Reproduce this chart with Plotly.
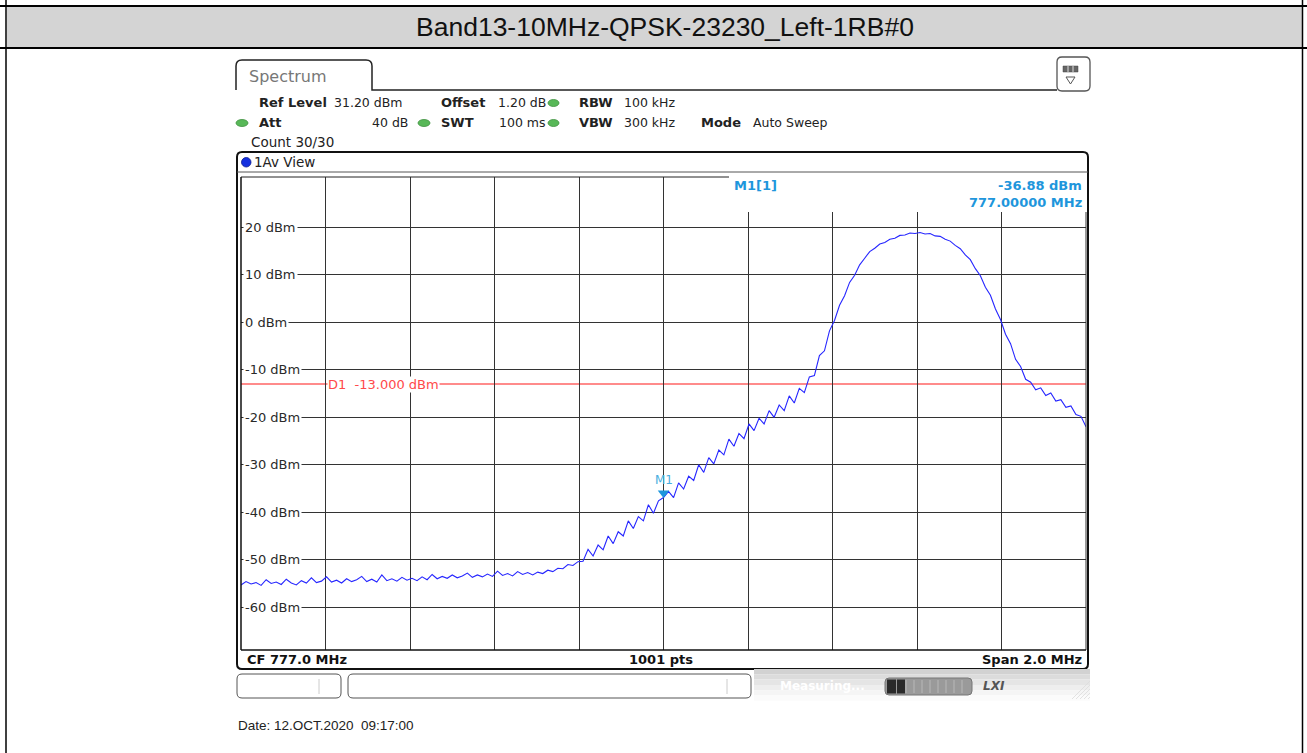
import numpy as np
import plotly.graph_objects as go

# ---------------- data ----------------
title_text = "Band13-10MHz-QPSK-23230_Left-1RB#0"
start_mhz = 776.0
stop_mhz = 778.0
levels_dbm = [
    -55.3, -54.6, -55.1, -54.8, -55.4, -54.2, -55.0, -54.7, -55.2, -54.1,
    -54.9, -55.3, -54.4, -54.9, -53.8, -54.8, -54.5, -53.6, -54.7, -54.3,
    -54.9, -54.0, -54.6, -54.2, -53.5, -54.6, -54.1, -54.7, -53.2, -54.4,
    -54.0, -54.5, -53.7, -54.3, -53.9, -54.4, -53.6, -54.2, -53.1, -54.0,
    -53.5, -53.9, -53.2, -53.8, -53.4, -52.8, -53.7, -53.2, -53.6, -53.0,
    -53.5, -52.4, -53.3, -52.9, -53.4, -52.5, -53.1, -52.7, -53.2, -52.6,
    -52.9, -52.2, -52.5, -51.8, -51.9, -51.0, -51.2, -50.4, -50.3, -47.8,
    -49.2, -46.9, -47.9, -45.0, -46.6, -44.1, -45.0, -41.8, -43.4, -40.9,
    -41.8, -38.4, -40.2, -37.6, -36.9, -35.6, -36.9, -33.8, -35.1, -32.4,
    -33.3, -30.0, -31.6, -28.5, -29.8, -26.9, -27.9, -24.6, -26.1, -23.4,
    -24.5, -21.4, -22.8, -20.2, -21.4, -18.6, -20.0, -17.4, -18.6, -15.5,
    -17.0, -13.9, -14.8, -11.5, -11.2, -7.0, -6.0, -1.8, 0.4, 3.6,
    5.6, 8.4, 9.9, 12.1, 13.5, 14.9, 15.6, 16.5, 16.8, 17.5,
    17.7, 18.3, 18.4, 18.8, 18.7, 18.9, 18.6, 18.7, 18.2, 18.1,
    17.5, 17.1, 16.2, 15.5, 14.2, 13.2, 11.3, 9.8, 7.4, 5.7,
    2.8, 0.6, -2.5, -4.5, -7.8, -9.3, -12.0, -12.6, -14.2, -13.8,
    -15.4, -14.9, -16.6, -16.3, -17.9, -17.6, -19.4, -19.8, -22.0,
]
freqs_mhz = np.linspace(start_mhz, stop_mhz, len(levels_dbm))

y_tick_values = [20, 10, 0, -10, -20, -30, -40, -50, -60]
y_tick_labels = ["20 dBm", "10 dBm", "0 dBm", "-10 dBm", "-20 dBm",
                 "-30 dBm", "-40 dBm", "-50 dBm", "-60 dBm"]
x_grid_step = 0.2
y_range = [-69.0, 30.6]

display_line_dbm = -13.0
display_line_label = "D1\u00a0\u00a0-13.000 dBm"
marker_freq = 777.0
marker_level = -36.88
marker_tip_offset_db = 0.95  # lifts the triangle so its tip sits on the level

# ---------------- geometry helpers ----------------
W, H = 1307, 753
PL, PR, PT, PB = 241, 1086, 177, 650


def X(px):
    return px / W


def Y(py):
    return 1 - py / H


def rrect_path(x0, y0, x1, y1, r):
    pts = [
        f"M {X(x0 + r)},{Y(y0)}",
        f"L {X(x1 - r)},{Y(y0)}",
        f"Q {X(x1)},{Y(y0)} {X(x1)},{Y(y0 + r)}",
        f"L {X(x1)},{Y(y1 - r)}",
        f"Q {X(x1)},{Y(y1)} {X(x1 - r)},{Y(y1)}",
        f"L {X(x0 + r)},{Y(y1)}",
        f"Q {X(x0)},{Y(y1)} {X(x0)},{Y(y1 - r)}",
        f"L {X(x0)},{Y(y0 + r)}",
        f"Q {X(x0)},{Y(y0)} {X(x0 + r)},{Y(y0)}",
        "Z",
    ]
    return " ".join(pts)


shapes = []
annotations = []


def line(x0, y0, x1, y1, color="#222", width=1.0, layer="above"):
    shapes.append(dict(type="line", xref="paper", yref="paper",
                       x0=X(x0), y0=Y(y0), x1=X(x1), y1=Y(y1),
                       line=dict(color=color, width=width), layer=layer))


def rect(x0, y0, x1, y1, fill, color=None, width=0, layer="above"):
    shapes.append(dict(type="rect", xref="paper", yref="paper",
                       x0=X(x0), y0=Y(y0), x1=X(x1), y1=Y(y1),
                       fillcolor=fill,
                       line=dict(color=color or fill, width=width), layer=layer))


def path(d, color="#222", width=1.0, fill=None, layer="above"):
    s = dict(type="path", xref="paper", yref="paper", path=d,
             line=dict(color=color, width=width), layer=layer)
    if fill:
        s["fillcolor"] = fill
    shapes.append(s)


def ellipse(x0, y0, x1, y1, fill, color):
    shapes.append(dict(type="circle", xref="paper", yref="paper",
                       x0=X(x0), y0=Y(y0), x1=X(x1), y1=Y(y1),
                       fillcolor=fill, line=dict(color=color, width=0.8),
                       layer="above"))


def text(t, px, py, size=13, color="#222", family="DejaVu Sans",
         anchor="left", bg=None):
    a = dict(text=t, xref="paper", yref="paper", x=X(px), y=Y(py),
             xanchor=anchor, yanchor="middle", showarrow=False,
             font=dict(family=family, size=size, color=color))
    if bg:
        a["bgcolor"] = bg
        a["borderpad"] = 1
    annotations.append(a)


# ---------------- table frame + header ----------------
rect(7, 7, 1302, 47, "#d4d4d4", layer="below")
line(0, 6, W, 6, "#000", 2)
line(0, 48, W, 48, "#000", 2)
line(6, 0, 6, H, "#000", 1.5)
line(1302.5, 0, 1302.5, H, "#000", 1.5)
text(title_text, 665, 27, size=26.5, color="#111",
     family="Liberation Sans, Arial", anchor="center")

# ---------------- instrument top area ----------------
tab = (f"M {X(236)},{Y(90)} L {X(236)},{Y(66)} "
       f"Q {X(236)},{Y(60)} {X(242)},{Y(60)} L {X(366)},{Y(60)} "
       f"Q {X(372)},{Y(60)} {X(372)},{Y(66)} L {X(372)},{Y(90)} "
       f"L {X(1057)},{Y(90)}")
path(tab, "#222", 1.5)
text("Spectrum", 247, 76, size=16, color="#777")

# icon at top right
path(rrect_path(1057, 57, 1090, 91, 5), "#555", 1.3, fill="white")
rect(1063, 66, 1078, 72, "#666", "#444", 0.5)
line(1068, 66, 1068, 72, "#ddd", 1)
line(1073, 66, 1073, 72, "#ddd", 1)
path(f"M {X(1066)},{Y(77)} L {X(1075)},{Y(77)} L {X(1070.5)},{Y(84)} Z",
     "#555", 1)

# settings rows
G_FILL, G_LINE = "#58b858", "#3d8f3d"
VS = 12.5
text("<b>Ref Level</b>", 257, 103, 13)
text("31.20 dBm", 332, 103, VS)
text("<b>Offset</b>", 439, 103, 13)
text("1.20 dB", 496, 103, VS)
ellipse(548, 99.5, 559, 106.5, G_FILL, G_LINE)
text("<b>RBW</b>", 577, 103, 13)
text("100 kHz", 622, 103, VS)

ellipse(236, 119.5, 248, 126.5, G_FILL, G_LINE)
text("<b>Att</b>", 257, 123, 13)
text("40 dB", 410, 123, VS, anchor="right")
ellipse(418, 119.5, 430, 126.5, G_FILL, G_LINE)
text("<b>SWT</b>", 439, 123, 13)
text("100 ms", 497, 123, VS)
ellipse(548, 119.5, 559, 126.5, G_FILL, G_LINE)
text("<b>VBW</b>", 577, 123, 13)
text("300 kHz", 622, 123, VS)
text("<b>Mode</b>", 699, 123, 13)
text("Auto Sweep", 751, 123, VS)

text("Count 30/30", 249, 142, 13.5)

# diagram frame
path(rrect_path(237, 152, 1088, 669, 5), "#111", 2)
line(237, 172, 1088, 172, "#555", 1)
ellipse(241.5, 157.5, 251, 167, "#1530e0", "#0a1a90")
text("1Av View", 252, 162, 13.5)

# white box for marker info (covers grid)
rect(729, 174, 1086, 212, "white")

# plot frame
line(PL, PT, 729, PT, "#222", 1)
line(PL, PT, PL, PB, "#111", 1.5)
line(PR, 212, PR, PB, "#333", 1)
line(PL, PB, PR, PB, "#111", 1.5)

# marker info
MC = "#1e96dc"
text("<b>M1[1]</b>", 732, 185, 13, MC)
text("<b>-36.88 dBm</b>", 1084, 185, 13, MC, anchor="right")
text("<b>777.00000 MHz</b>", 1084, 202, 13, MC, anchor="right")

# bottom info row
text("<b>CF 777.0 MHz</b>", 245, 659, 13, "#111")
text("<b>1001 pts</b>", 661, 659, 13, "#111", anchor="center")
text("<b>Span 2.0 MHz</b>", 1084, 659, 13, "#111", anchor="right")

# status bar
path(rrect_path(237, 674, 341, 698, 5), "#555", 1)
line(319, 679, 319, 694, "#ccc", 1)
path(rrect_path(348, 674, 751, 698, 5), "#555", 1)
line(727, 679, 727, 694, "#ccc", 1)
grad = ["#d2d2d2", "#dcdcdc", "#e5e5e5", "#eeeeee", "#f5f5f5", "#fbfbfb"]
for k, c in enumerate(grad):
    rect(754, 669 + k * 5.3, 1090, 669 + (k + 1) * 5.3, c)
text("<b>Measuring...</b>", 778, 686, 12, "#ffffff")
path(rrect_path(885, 678, 972, 695, 4), "#777", 1, fill="#9a9a9a")
rect(887, 679.5, 896, 693.5, "#2a2a2a")
rect(897, 679.5, 905, 693.5, "#2a2a2a")
for sx in range(906, 970, 8):
    line(sx, 680, sx, 693, "#b8b8b8", 1)
text("<b><i>LXI</i></b>", 994, 686, 12, "#555", anchor="center")
for k in range(5):
    line(1072 + k * 4, 699, 1090, 681 + k * 4, "#dcdcdc", 0.8)

# date
text("Date: 12.OCT.2020\u00a0\u00a009:17:00", 236, 725, 13.5, "#222",
     family="Liberation Sans, Arial")

# y-axis labels (drawn over grid with white background)
for v, lab in zip(y_tick_values, y_tick_labels):
    annotations.append(dict(text=lab, xref="paper", yref="y", x=X(243), y=v,
                            xanchor="left", yanchor="middle", showarrow=False,
                            bgcolor="white", borderpad=1,
                            font=dict(family="DejaVu Sans", size=13,
                                      color="#2a2a2a")))

# display line
shapes.append(dict(type="line", xref="x", yref="y", x0=start_mhz,
                   x1=stop_mhz, y0=display_line_dbm, y1=display_line_dbm,
                   line=dict(color="#ff6464", width=1.5), layer="below"))
annotations.append(dict(text=display_line_label, xref="paper", yref="y",
                        x=X(327), y=display_line_dbm, xanchor="left",
                        yanchor="middle", showarrow=False, bgcolor="white",
                        borderpad=0,
                        font=dict(family="DejaVu Sans", size=13,
                                  color="#ff4a4a")))

# marker label
annotations.append(dict(text="M1", xref="x", yref="y", x=marker_freq,
                        y=marker_level, yshift=17, xanchor="center",
                        yanchor="middle", showarrow=False,
                        font=dict(family="DejaVu Sans", size=12,
                                  color="#49aee0")))

# ---------------- figure ----------------
fig = go.Figure()
fig.add_trace(go.Scatter(x=freqs_mhz, y=levels_dbm, mode="lines",
                         line=dict(color="#2626ff", width=1.1),
                         hoverinfo="skip", showlegend=False))
fig.add_trace(go.Scatter(x=[marker_freq], y=[marker_level + marker_tip_offset_db],
                         mode="markers",
                         marker=dict(symbol="triangle-down", size=10,
                                     color=MC, line=dict(width=0)),
                         hoverinfo="skip", showlegend=False))

fig.update_layout(
    width=W, height=H,
    margin=dict(l=0, r=0, t=0, b=0),
    paper_bgcolor="white", plot_bgcolor="white",
    showlegend=False,
    xaxis=dict(domain=[X(PL), X(PR)], range=[start_mhz, stop_mhz],
               showticklabels=False, ticks="", showgrid=True,
               tick0=start_mhz, dtick=x_grid_step,
               gridcolor="#333", gridwidth=1, zeroline=False,
               showline=False, fixedrange=True),
    yaxis=dict(domain=[Y(PB), Y(PT)], range=y_range,
               showticklabels=False, ticks="", showgrid=True,
               tickmode="array", tickvals=y_tick_values,
               gridcolor="#333", gridwidth=1, zeroline=False,
               showline=False, fixedrange=True),
    shapes=shapes,
    annotations=annotations,
)

fig.write_html(
    "out.html",
    config={"displayModeBar": False},
    post_script="document.body.style.margin='0px';document.body.style.padding='0px';",
)
